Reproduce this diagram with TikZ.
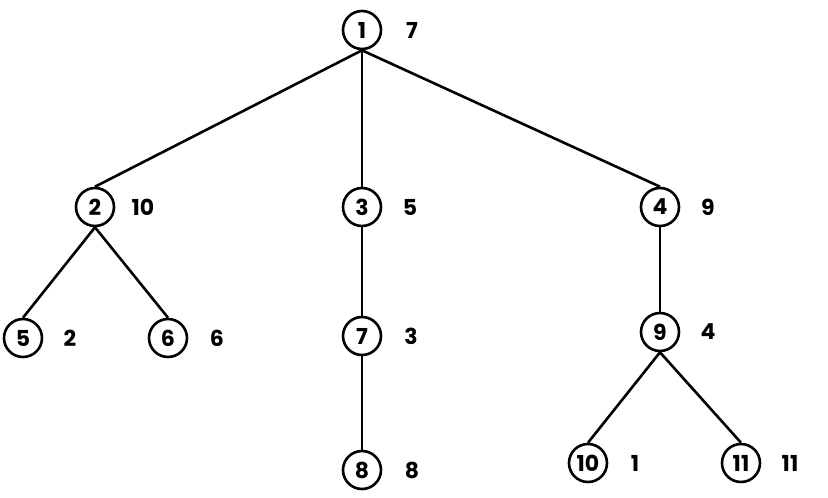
\documentclass[tikz,border=0pt]{standalone}
\usepackage{fontspec}
\setmainfont{Poppins}
\begin{document}
\begin{tikzpicture}[x=1pt,y=-1pt,
  vtx/.style={circle,draw,line width=2.6pt,minimum size=38pt,inner sep=0pt,font=\fontsize{22}{22}\selectfont\bfseries},
  val/.style={font=\fontsize{22}{22}\selectfont\bfseries,inner sep=0pt},
  edge/.style={line width=2.6pt}]
\useasboundingbox (0,0) rectangle (828,498);
\node[vtx] (n1) at (362,30) {1};
\node[vtx] (n2) at (95,207) {2};
\node[vtx] (n3) at (362,207) {3};
\node[vtx] (n4) at (660,207) {4};
\node[vtx] (n5) at (23,338) {5};
\node[vtx] (n6) at (168,338) {6};
\node[vtx] (n7) at (362,336) {7};
\node[vtx] (n8) at (362,470) {8};
\node[vtx] (n9) at (660,332) {9};
\node[vtx] (n10) at (588,463) {10};
\node[vtx] (n11) at (741,463) {11};
\node[val] (l1) at (412,30) {7};
\node[val] (l2) at (143,207) {10};
\node[val] (l3) at (410,207) {5};
\node[val] (l4) at (708,207) {9};
\node[val] (l5) at (70,338) {2};
\node[val] (l6) at (217,338) {6};
\node[val] (l7) at (411,336) {3};
\node[val] (l8) at (412,470) {8};
\node[val] (l9) at (708,332) {4};
\node[val] (l10) at (635,463) {1};
\node[val] (l11) at (790,463) {11};
\draw[edge] (n1.south) -- (n2.north);
\draw[edge] (n1.south) -- (n3.north);
\draw[edge] (n1.south) -- (n4.north);
\draw[edge] (n2.south) -- (n5.north);
\draw[edge] (n2.south) -- (n6.north);
\draw[edge] (n3.south) -- (n7.north);
\draw[edge] (n7.south) -- (n8.north);
\draw[edge] (n4.south) -- (n9.north);
\draw[edge] (n9.south) -- (n10.north);
\draw[edge] (n9.south) -- (n11.north);
\end{tikzpicture}
\end{document}
